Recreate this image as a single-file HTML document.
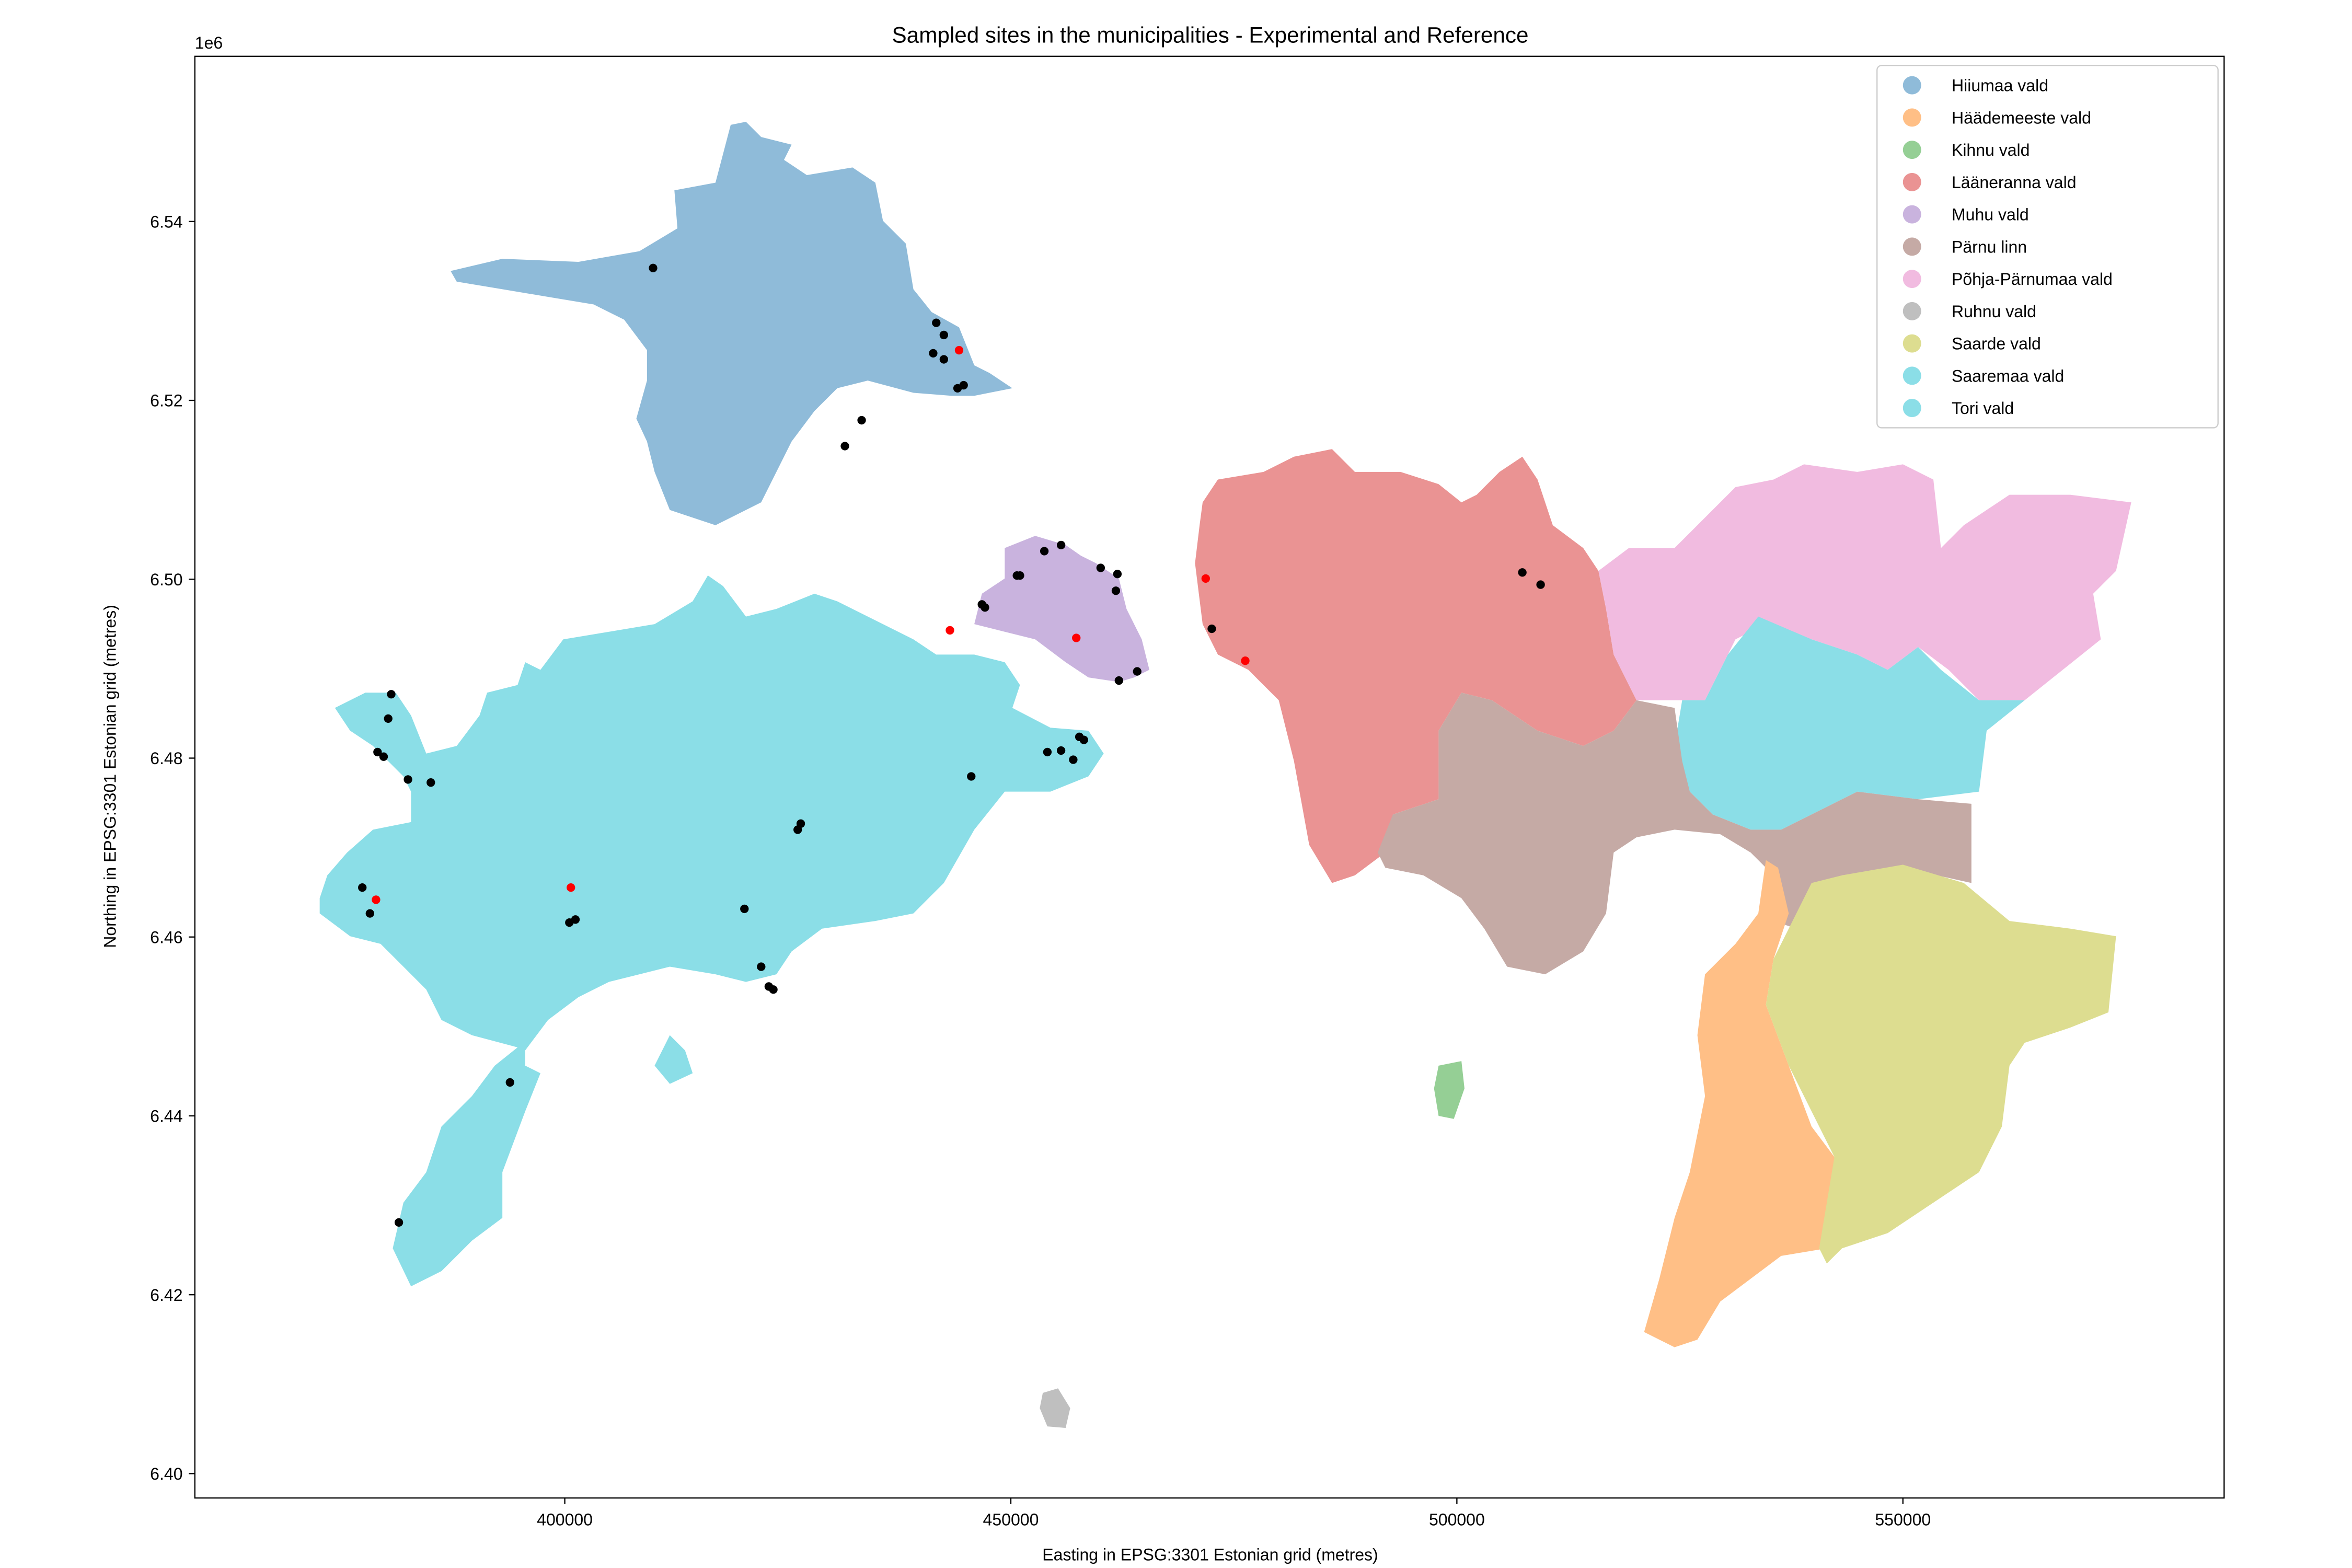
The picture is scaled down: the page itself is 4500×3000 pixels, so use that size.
<!DOCTYPE html>
<html><head><meta charset="utf-8"><style>
html,body{margin:0;padding:0;background:#fff;}
svg{display:block;font-family:"Liberation Sans","DejaVu Sans",sans-serif;}
</style></head><body>
<svg id="chart" width="4500" height="3000" viewBox="0 0 1545 1030" xmlns="http://www.w3.org/2000/svg">
<rect width="1545" height="1030" fill="#fff"/>
<g id="shapes">
<polygon fill="#8fbbd9" points="296,178 330,170 380,172 420,165 445,150 443,125 470,120 480,82 490,80 500,90 520,95 515,105 530,115 560,110 575,120 580,145 595,160 600,190 612,205 630,215 640,240 650,245 665,255 640,260 625,260 600,258 570,250 550,255 535,270 520,290 500,330 470,345 440,335 430,310 425,290 418,275 425,250 425,230 410,210 390,200 360,195 330,190 300,185"/>
<polygon fill="#8bdee7" points="210,590 215,575 228,560 245,545 270,540 270,520 265,510 245,490 230,480 220,465 240,455 260,455 270,470 280,495 300,490 315,470 320,455 340,450 345,435 355,440 370,420 400,415 430,410 455,395 465,378 475,385 490,405 510,400 535,390 550,395 580,410 600,420 615,430 640,430 660,435 670,450 665,465 690,478 715,480 725,495 715,510 690,520 660,520 640,545 620,580 600,600 575,605 540,610 520,625 510,640 490,645 470,640 440,635 420,640 400,645 380,655 360,670 345,690 345,700 355,705 345,730 330,770 330,800 310,815 290,835 270,845 258,820 265,790 280,770 290,740 310,720 325,700 340,688 310,680 290,670 280,650 250,620 230,615 210,600"/>
<polygon fill="#8bdee7" points="430,700 440,680 450,690 455,705 440,712"/>
<polygon fill="#c9b3de" points="640,410 645,390 660,380 660,360 680,352 700,358 710,365 720,370 735,380 740,400 750,420 755,440 745,445 735,448 715,445 700,435 680,420 660,415"/>
<polygon fill="#ea9393" points="790,330 800,315 830,310 850,300 875,295 890,310 920,310 945,318 960,330 970,325 985,310 1000,300 1010,315 1020,345 1040,360 1050,375 1055,400 1060,430 1075,460 1060,480 1040,490 1010,480 980,460 960,455 945,480 945,525 915,535 910,560 890,575 875,580 860,555 850,500 840,460 820,440 800,430 790,410 785,370 788,345"/>
<polygon fill="#f1bbe0" points="1050,375 1070,360 1100,360 1120,340 1140,320 1165,315 1185,305 1220,310 1250,305 1270,315 1275,360 1290,345 1320,325 1360,325 1400,330 1390,375 1375,390 1380,420 1355,440 1330,460 1300,460 1280,440 1260,425 1240,440 1220,430 1190,420 1160,410 1140,420 1120,460 1075,460 1060,430 1055,400"/>
<polygon fill="#8bdee7" points="1105,460 1120,460 1135,430 1155,405 1190,420 1220,430 1240,440 1260,425 1275,440 1300,460 1330,460 1305,480 1300,520 1260,525 1220,520 1200,530 1170,545 1150,545 1125,535 1110,520 1100,490"/>
<polygon fill="#c5aaa5" points="905,560 915,535 945,525 945,480 960,455 980,460 1010,480 1040,490 1060,480 1075,460 1100,465 1105,500 1110,520 1125,535 1150,545 1170,545 1200,530 1220,520 1260,525 1295,528 1295,580 1250,570 1210,575 1190,585 1195,605 1180,610 1165,605 1160,570 1150,560 1130,548 1100,545 1075,550 1060,560 1055,600 1040,625 1015,640 990,635 975,610 960,590 935,575 910,570"/>
<polygon fill="#ffbf86" points="1160,565 1168,570 1175,600 1165,630 1160,660 1175,700 1190,740 1205,760 1200,820 1170,825 1130,855 1115,880 1100,885 1080,875 1090,840 1100,800 1110,770 1120,720 1115,680 1120,640 1140,620 1155,600"/>
<polygon fill="#dddd90" points="1190,580 1210,575 1250,568 1290,580 1320,605 1360,610 1390,615 1385,665 1360,675 1330,685 1320,700 1315,740 1300,770 1270,790 1240,810 1210,820 1200,830 1195,820 1200,790 1205,760 1195,740 1175,700 1160,660 1165,630 1175,610"/>
<polygon fill="#95cf95" points="945,700 960,697 962,715 955,735 945,733 942,715"/>
<polygon fill="#bfbfbf" points="685,915 695,912 703,925 700,938 688,937 683,925"/>
</g>
<g id="points"></g>
<rect x="128" y="37" width="1333" height="947" fill="none" stroke="#000" stroke-width="0.8"/>
<g id="xaxis" font-size="11" text-anchor="middle"></g>
<g id="yaxis" font-size="11" text-anchor="end"></g>
<text x="128" y="32" font-size="11">1e6</text>
<text x="795" y="28" font-size="14.5" text-anchor="middle">Sampled sites in the municipalities - Experimental and Reference</text>
<text x="795" y="1025" font-size="11" text-anchor="middle">Easting in EPSG:3301 Estonian grid (metres)</text>
<text x="0" y="0" font-size="11" text-anchor="middle" transform="translate(76,510) rotate(-90)">Northing in EPSG:3301 Estonian grid (metres)</text>
<g>
<rect x="1233" y="43" width="224" height="238" rx="3" fill="#fff" fill-opacity="0.8" stroke="#ccc" stroke-width="0.8"/>
<g id="legend-items" font-size="11"></g>
</g>
</svg>
<script>
const xTicks=[400000,450000,500000,550000];
const yTicks=[6400000,6420000,6440000,6460000,6480000,6500000,6520000,6540000];
const yTickLabels=["6.40","6.42","6.44","6.46","6.48","6.50","6.52","6.54"];
const blackE=[409898,441639,442492,441297,442492,444028,444710,433277,431400,453755,455632,451024,450683,460069,461946,461775,446758,447099,462117,464164,472526,507339,509387,380546,380205,379010,379693,382423,384983,377304,378157,400512,401195,420137,426451,426109,445564,454096,455632,456997,457680,458192,422014,422867,423379,393857,381399];
const blackN=[6534798,6528671,6527310,6525267,6524586,6521353,6521693,6517778,6514885,6503141,6503822,6500418,6500418,6501269,6500588,6498716,6497184,6496844,6488674,6489695,6494461,6500758,6499397,6487142,6484419,6480675,6480164,6477611,6477271,6465527,6462634,6461612,6461953,6463144,6472675,6471995,6477952,6480675,6480845,6479824,6482377,6482036,6456677,6454464,6454124,6443741,6428083];
const redE=[444198,443174,457338,471844,476281,400683,378839];
const redN=[6525608,6494291,6493440,6500078,6490887,6465527,6464165];
const legendLabels=["Hiiumaa vald","Häädemeeste vald","Kihnu vald","Lääneranna vald","Muhu vald","Pärnu linn","Põhja-Pärnumaa vald","Ruhnu vald","Saarde vald","Saaremaa vald","Tori vald"];
const legendColors=["#8fbbd9","#ffbf86","#95cf95","#ea9393","#c9b3de","#c5aaa5","#f1bbe0","#bfbfbf","#dddd90","#8bdee7","#8bdee7"];
const NS="http://www.w3.org/2000/svg";
function sx(e){return 371+(e-400000)/50000*293;}
function sy(n){return 968-(n-6400000)/20000*117.5;}
function mk(t,a,p){const el=document.createElementNS(NS,t);for(const k in a)el.setAttribute(k,a[k]);p.appendChild(el);return el;}
const pts=document.getElementById('points');
for(let i=0;i<blackE.length;i++){const c=mk('circle',{cx:sx(blackE[i]),cy:sy(blackN[i]),r:2.8,fill:'#000'},pts);

}
for(let i=0;i<redE.length;i++){const c=mk('circle',{cx:sx(redE[i]),cy:sy(redN[i]),r:2.8,fill:'#ff0000'},pts);

}
const xa=document.getElementById('xaxis');
xTicks.forEach(v=>{const x=sx(v);const l=mk('line',{x1:x,x2:x,y1:984,y2:988,stroke:'#000','stroke-width':0.8},xa);


const t=mk('text',{x:x,y:1002},xa);t.textContent=String(v);

});
const ya=document.getElementById('yaxis');
yTicks.forEach((v,i)=>{const y=sy(v);const l=mk('line',{x1:124,x2:128,y1:y,y2:y,stroke:'#000','stroke-width':0.8},ya);


const t=mk('text',{x:120,y:y+4},ya);t.textContent=yTickLabels[i];

});
const lg=document.getElementById('legend-items');
legendLabels.forEach((s,i)=>{const y=56+i*21.2;const g=mk('g',{},lg);


mk('circle',{cx:1256,cy:y,r:6,fill:legendColors[i]},g);
const t=mk('text',{x:1282,y:y+4},g);t.textContent=s;});
</script>
</body></html>
